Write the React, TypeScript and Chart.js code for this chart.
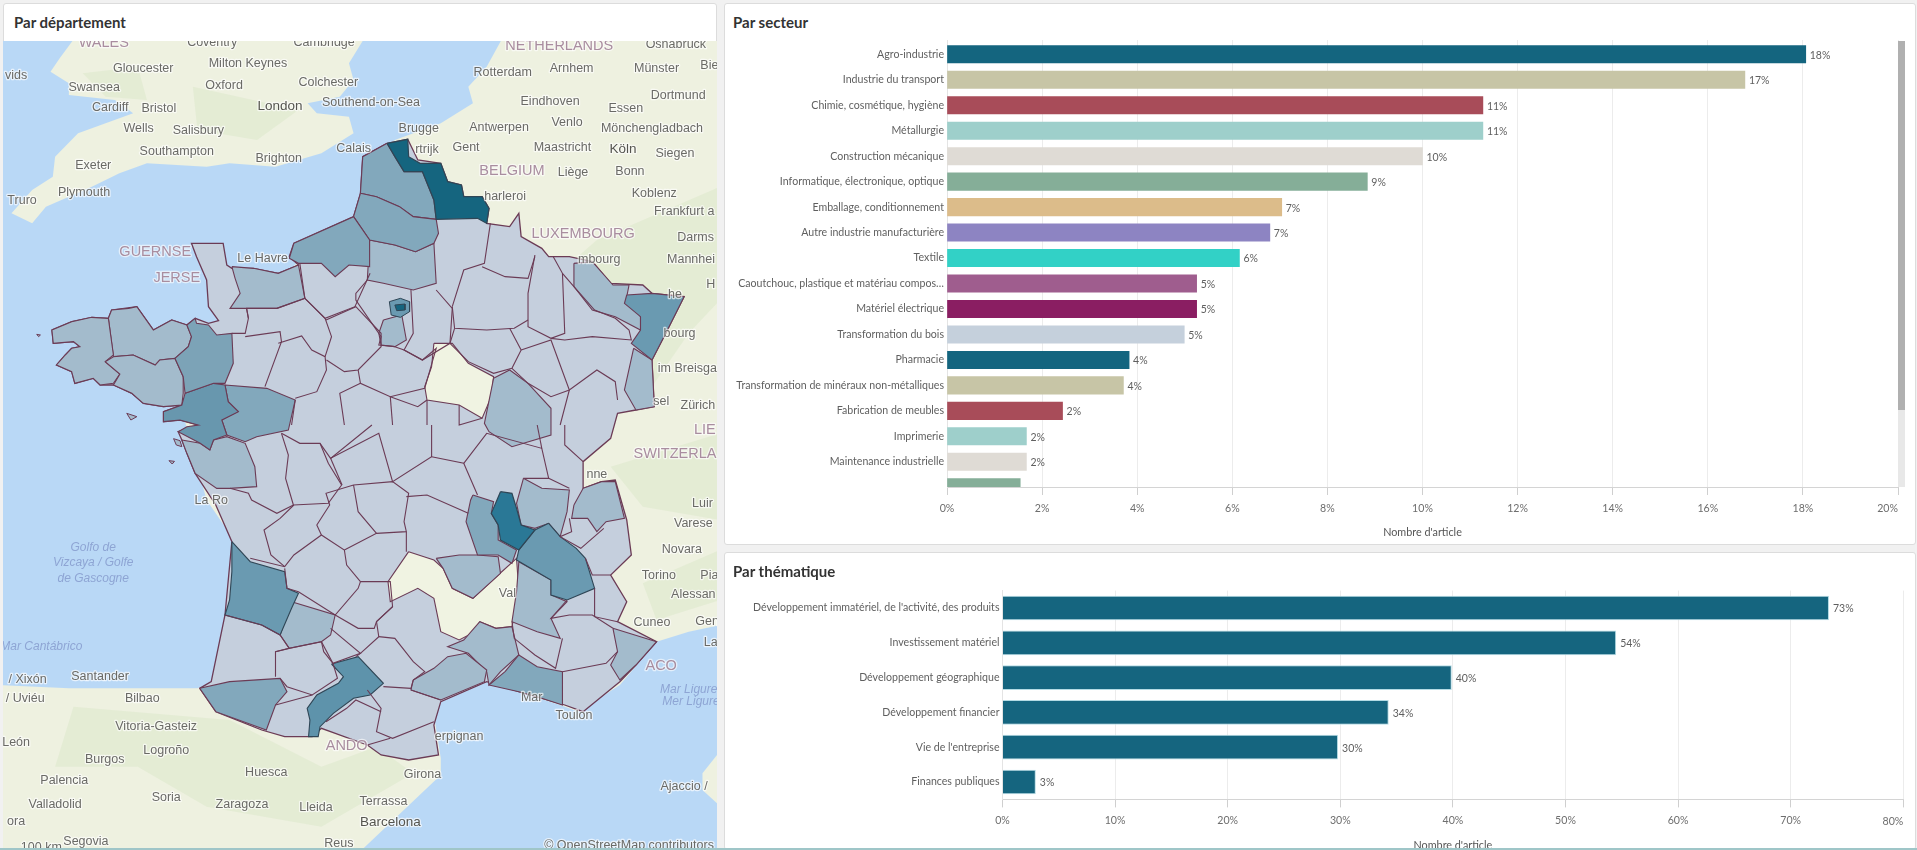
import React, { useEffect, useRef } from "react";
import { Chart, registerables } from "chart.js";

Chart.register(...registerables);

const UI_FONT = "Lato, 'Noto Sans', sans-serif";
const MAP_FONT = "'Liberation Sans', Arial, sans-serif";

// ---------- sector chart ----------
const sectorCategories = [
  "Agro-industrie", "Industrie du transport", "Chimie, cosmétique, hygiène", "Métallurgie",
  "Construction mécanique", "Informatique, électronique, optique", "Emballage, conditionnement",
  "Autre industrie manufacturière", "Textile", "Caoutchouc, plastique et matériau compos…",
  "Matériel électrique", "Transformation du bois", "Pharmacie",
  "Transformation de minéraux non-métalliques", "Fabrication de meubles", "Imprimerie",
  "Maintenance industrielle", "",
];
const sectorValues = [18.06, 16.78, 11.27, 11.27, 10.0, 8.84, 7.04, 6.79, 6.15, 5.25, 5.25, 4.99, 3.83, 3.71, 2.43, 1.67, 1.67, 1.54];
const sectorLabels = ["18%", "17%", "11%", "11%", "10%", "9%", "7%", "7%", "6%", "5%", "5%", "5%", "4%", "4%", "2%", "2%", "2%", ""];
const sectorColors = [
  "#14657f", "#c7c5a6", "#a84c59", "#9ecfcb", "#dfdbd5", "#85ae98", "#dcbc8a", "#8d84c2", "#32d1c6",
  "#9f5d8e", "#8a1e62", "#c5d0dc", "#14657f", "#c7c5a6", "#a84c59", "#9ecfcb", "#dfdbd5", "#85ae98",
];

// ---------- theme chart ----------
const themeCategories = [
  "Développement immatériel, de l'activité, des produits", "Investissement matériel",
  "Développement géographique", "Développement financier", "Vie de l'entreprise", "Finances publiques",
];
const themeValues = [73.4, 54.5, 39.9, 34.3, 29.8, 2.96];
const themeLabels = ["73%", "54%", "40%", "34%", "30%", "3%"];

// ---------- map: shapes in map units ----------
type P = number[];
const south = (pts: P[]): P[] => pts.map(([x, y]) => [x, y + 1275]);

const landUK: P[] = [[170,100],[130,175],[110,215],[150,250],[150,285],[250,300],[290,340],[230,370],[170,400],[120,470],[115,530],[70,570],[25,640],[70,670],[100,620],[150,590],[200,560],[260,520],[320,490],[450,500],[500,490],[600,500],[700,460],[770,400],[760,350],[690,340],[670,310],[740,290],[770,240],[760,190],[800,100]];
const landContinent: P[] = [[1100,100],[1060,200],[1020,260],[1030,310],[960,370],[860,420],[843,435],[820,500],[800,640],[700,720],[600,850],[500,950],[300,1050],[400,1250],[450,1500],[520,1640],[500,1845],[470,2045],[430,2065],[300,2065],[150,2065],[0,2055],[0,2560],[780,2560],[960,2325],[960,2275],[945,2145],[960,2105],[1060,2045],[1130,2075],[1220,2115],[1260,2135],[1350,2055],[1430,1925],[1500,1895],[1570,1875],[1570,100]];
const landCorsica: P[] = [[1570,2250],[1530,2320],[1530,2370],[1570,2420]];
const greenPatches: P[][] = [
  [[1150,900],[1300,720],[1568,560],[1568,900],[1500,1000],[1400,1200],[1300,800]],
  [[1330,1400],[1568,1300],[1568,1560],[1400,1520]],
  [[1400,1750],[1568,1650],[1568,1800],[1430,1860]],
  [[160,2120],[500,2160],[700,2300],[820,2240],[900,2320],[700,2480],[450,2420],[300,2300],[120,2300]],
  [[420,260],[650,330],[560,420],[430,390]],
  [[180,220],[300,200],[320,300],[230,290]],
];
const franceOutline: P[] = [[843,430],[888,418],[910,480],[960,490],[975,545],[1005,555],[1010,590],[1050,590],[1065,625],[1060,670],[1110,680],[1130,640],[1135,710],[1180,745],[1195,770],[1240,770],[1290,785],[1330,850],[1400,855],[1420,880],[1490,890],[1450,1000],[1420,1080],[1425,1220],[1385,1230],[1345,1240],[1330,1315],[1270,1385],[1270,1465],[1310,1445],[1340,1440],[1365,1560],[1375,1665],[1330,1725],[1365,1805],[1345,1865],[1430,1925],[1385,1995],[1350,2045],[1270,2135],[1230,2115],[1130,2075],[1060,2045],[960,2105],[945,2175],[955,2265],[890,2280],[830,2265],[800,2235],[700,2185],[680,2210],[620,2210],[570,2190],[470,2135],[435,2065],[460,2045],[490,1845],[505,1625],[470,1515],[425,1420],[407,1360],[396,1320],[388,1295],[432,1275],[392,1260],[356,1265],[356,1235],[396,1215],[356,1220],[312,1210],[287,1180],[247,1155],[218,1155],[203,1135],[163,1150],[156,1115],[123,1095],[142,1065],[156,1045],[174,1040],[160,1025],[116,1030],[113,990],[156,965],[200,952],[236,955],[243,930],[298,920],[334,990],[374,960],[407,975],[425,955],[454,970],[476,962],[454,920],[450,840],[428,770],[417,730],[486,730],[494,795],[505,805],[552,805],[606,820],[650,795],[630,770],[640,730],[770,650],[785,580],[790,470]];
const islands: P[][] = [
  [[276,1240],[298,1250],[285,1260]],
  [[378,1316],[392,1322],[396,1340],[384,1335]],
  [[368,1382],[380,1384],[375,1392]],
  [[80,1003],[88,1005],[84,1010]],
];

const deptNord: P[] = [[843,430],[888,418],[890,470],[915,490],[945,490],[960,490],[975,545],[1005,555],[1010,590],[1050,590],[1065,625],[1060,670],[1040,655],[950,658],[945,600],[920,515],[880,515],[860,470]];
const deptParisRing: P[] = [[848,905],[872,895],[892,905],[892,935],[872,952],[852,945]];
const deptParis: P[] = [[860,915],[882,912],[882,930],[864,932]];
const deptRhone: P[] = south([[1090,200],[1115,205],[1125,250],[1135,300],[1165,315],[1130,375],[1090,345],[1085,300],[1070,265]]);
const deptHauteGaronne: P[] = [[722,1992],[780,1970],[835,2050],[806,2085],[770,2095],[726,2140],[697,2180],[693,2210],[672,2210],[675,2160],[669,2125],[690,2085],[737,2050],[748,2030]];
const deptGironde: P[] = south([[505,350],[545,410],[620,440],[625,490],[650,505],[635,550],[610,630],[570,600],[490,570],[500,525],[505,440]]);
const deptIsere: P[] = south([[1195,295],[1220,335],[1255,370],[1275,400],[1295,490],[1235,525],[1200,510],[1200,465],[1125,405],[1130,375],[1165,315]]);
const deptBasRhin: P[] = [[1365,885],[1420,880],[1490,890],[1450,1000],[1420,1080],[1375,1030],[1395,990],[1395,950],[1360,910]];
const deptLoireAtl: P[] = [[403,1180],[465,1150],[490,1155],[497,1205],[519,1235],[483,1260],[494,1305],[465,1320],[457,1350],[436,1330],[388,1295],[407,1280],[432,1275],[392,1260],[356,1265],[356,1235],[396,1215]];
const deptIlleVilaine: P[] = [[407,975],[425,955],[428,970],[454,975],[472,1005],[505,1000],[508,1090],[490,1150],[465,1150],[403,1180],[399,1130],[381,1075],[410,1040],[417,1010]];
const mediumDepts: P[][] = [
  [[843,430],[860,470],[880,515],[920,515],[945,600],[950,658],[900,650],[870,620],[820,590],[785,580],[790,470]],
  [[785,580],[820,590],[870,620],[900,650],[950,658],[955,700],[945,730],[905,755],[860,735],[805,720],[770,650]],
  [[770,650],[805,720],[805,800],[760,795],[730,830],[700,790],[650,790],[630,775],[640,730]],
  [[490,1155],[581,1165],[643,1200],[628,1290],[559,1310],[534,1325],[494,1305],[483,1260],[519,1235],[497,1205]],
  south([[1030,210],[1075,230],[1070,265],[1085,300],[1085,345],[1125,375],[1115,415],[1085,390],[1040,390],[1015,290],[1025,225]]),
  south([[435,790],[500,770],[610,760],[625,800],[600,840],[580,915],[470,860]]),
  south([[1100,740],[1130,690],[1170,725],[1225,740],[1225,840],[1180,820],[1130,800],[1065,780]]),
];
const lightDepts: P[][] = [
  [[805,720],[860,735],[905,755],[945,730],[950,850],[900,870],[835,850],[800,840]],
  [[505,800],[552,805],[606,820],[650,795],[664,895],[603,925],[537,925],[501,925],[523,880],[512,835]],
  [[236,955],[243,930],[280,925],[298,920],[334,990],[374,960],[407,975],[417,1010],[410,1040],[381,1075],[348,1080],[338,1095],[290,1065],[247,1070]],
  [[113,990],[116,1030],[160,1025],[174,1040],[156,1045],[142,1065],[123,1095],[156,1115],[163,1150],[203,1135],[218,1155],[247,1150],[261,1122],[229,1085],[247,1065],[236,955],[200,952],[156,965]],
  [[229,1085],[247,1070],[290,1065],[338,1095],[348,1080],[381,1075],[399,1130],[399,1180],[396,1215],[356,1220],[312,1210],[287,1180],[247,1155],[261,1122]],
  [[396,1320],[436,1330],[457,1350],[465,1320],[494,1310],[534,1330],[555,1400],[559,1460],[501,1465],[472,1465],[425,1420],[407,1360]],
  [[835,960],[875,945],[885,1020],[860,1040],[830,1035],[825,1000]],
  [[1250,790],[1290,785],[1335,855],[1370,855],[1365,890],[1395,950],[1395,990],[1340,950],[1290,930],[1250,860]],
  [[1380,1045],[1420,1080],[1425,1220],[1385,1230],[1360,1170]],
  [[1075,1135],[1110,1110],[1150,1150],[1200,1225],[1200,1305],[1115,1340],[1065,1295],[1055,1270]],
  south([[1140,160],[1180,190],[1240,195],[1235,260],[1220,335],[1195,295],[1165,310],[1135,300],[1125,235]]),
  south([[1250,240],[1270,190],[1310,170],[1340,170],[1360,280],[1320,290],[1300,320],[1280,280],[1245,280]]),
  south([[1130,410],[1200,465],[1200,510],[1235,530],[1200,580],[1220,640],[1170,620],[1115,590],[1125,500]]),
  south([[950,400],[1000,390],[1040,390],[1085,395],[1090,445],[1030,520],[985,490],[965,430]]),
  south([[1045,590],[1080,610],[1115,605],[1130,690],[1090,740],[1065,780],[1060,740],[1020,685],[975,665],[1010,645]]),
  south([[900,765],[945,730],[975,695],[1015,685],[1060,735],[1055,770],[960,825],[895,795]]),
  south([[1335,610],[1430,650],[1385,720],[1350,765],[1330,720],[1345,680]]),
  south([[635,530],[730,570],[720,630],[700,650],[630,670],[610,630]]),
];
const emptyDepts: P[][] = [
  [[945,1030],[985,1030],[1020,1090],[1075,1130],[1070,1190],[1050,1255],[1000,1215],[930,1200],[925,1160],[940,1100]],
  south([[890,380],[945,405],[965,430],[985,490],[1030,520],[1085,450],[1125,400],[1130,500],[1115,605],[1080,610],[1045,590],[1035,620],[1000,645],[960,620],[945,520],[910,490],[850,530],[845,470]]),
];
const northBorders: P[][] = [
  [[1068,670],[1055,790],[1010,810],[985,920]],
  [[1050,800],[1100,830],[1150,835],[1165,770]],
  [[1165,765],[1150,880],[1150,980],[1200,1015],[1230,1000],[1225,820],[1205,770]],
  [[1225,820],[1250,860],[1295,930],[1340,955],[1370,990],[1375,1020],[1290,1010],[1230,1020],[1200,1015]],
  [[985,920],[990,985],[1060,990],[1120,985],[1150,960]],
  [[990,985],[980,1030],[1020,1085],[1075,1120],[1115,1105],[1135,1050],[1110,985]],
  [[1135,1050],[1200,1020],[1240,1170],[1220,1275]],
  [[1115,1105],[1150,1150],[1200,1190],[1240,1170],[1300,1110],[1340,1145],[1345,1200]],
  [[895,870],[900,1000],[880,1050],[920,1080],[980,1030],[985,925],[950,870]],
  [[800,840],[775,880],[775,900],[830,1010],[825,1035],[860,1040]],
  [[653,790],[664,895],[708,955],[773,920],[806,820]],
  [[537,925],[541,955],[534,1000],[505,1000]],
  [[541,955],[537,925],[603,925],[664,895],[708,955],[722,1010],[708,1070]],
  [[534,1010],[610,995],[613,1025],[577,1160]],
  [[606,1030],[657,1008],[679,1050],[708,1070],[711,1110],[690,1175],[643,1195]],
  [[710,960],[775,920],[830,1000],[830,1040],[780,1110],[750,1115],[711,1080]],
  [[780,1110],[785,1150],[850,1190],[925,1165],[950,1045],[920,1080],[880,1050],[860,1040]],
  [[850,1190],[910,1220],[930,1200]],
  [[850,1190],[855,1275]],
  [[785,1150],[740,1180],[750,1275]],
  [[643,1200],[635,1275]],
  [[930,1200],[930,1275]],
  [[1000,1215],[1000,1275],[1050,1255]],
];
const southBorders: P[][] = [
  [[613,25],[628,90],[622,160],[639,240]],
  [[640,240],[610,280],[575,315],[590,390],[620,425]],
  [[501,190],[541,205],[548,225],[603,265],[639,240]],
  [[639,240],[715,235],[744,180],[715,115],[697,55],[653,55],[613,25]],
  [[545,400],[620,425],[640,390],[700,330],[750,375],[755,420],[785,470],[780,490],[730,570],[650,500],[625,490],[620,430]],
  [[700,330],[690,300],[718,240],[710,205],[770,180],[855,170],[890,205],[880,290],[885,320],[820,325],[750,375]],
  [[770,180],[780,260],[820,325]],
  [[720,100],[745,180]],
  [[697,55],[720,100],[810,0]],
  [[720,100],[825,25],[855,170],[940,95],[940,0]],
  [[940,95],[1010,115],[1040,210]],
  [[885,215],[930,210],[1020,265]],
  [[885,320],[885,380]],
  [[1010,115],[1060,25],[1180,70],[1195,160],[1140,160]],
  [[1180,70],[1170,0]],
  [[1230,0],[1230,60],[1270,110]],
  [[1195,160],[1240,190]],
  [[1240,280],[1245,320],[1220,335],[1265,370],[1315,310]],
  [[1275,400],[1290,450],[1330,450]],
  [[1235,525],[1200,580],[1240,570],[1290,570],[1335,610]],
  [[1345,590],[1295,575],[1295,490]],
  [[1115,590],[1120,640],[1165,690],[1210,730],[1225,640]],
  [[1225,740],[1320,715],[1345,680]],
  [[730,570],[780,610],[815,610],[820,590],[855,545],[850,470],[785,470]],
  [[855,545],[820,590],[825,635],[785,685],[775,695]],
  [[825,635],[860,640],[900,710],[925,740],[900,765],[895,790],[835,785]],
  [[490,570],[570,600],[610,630],[630,670],[600,680],[600,755]],
  [[600,680],[630,670],[700,650],[725,715],[735,760],[680,810],[625,785],[610,760]],
  [[600,840],[680,810]],
  [[700,650],[705,680],[725,715],[785,685],[720,610]],
  [[800,795],[830,850],[820,920],[855,940],[945,890]],
  [[895,795],[960,825]],
  [[710,890],[755,850],[775,825],[830,860]],
  [[800,960],[850,940]],
];

type L = [string, number, number];
const countryNames: L[] = [
  ["WALES",226,130],["NETHERLANDS",1218,138],["BELGIUM",1115,513],["LUXEMBOURG",1270,702],["GUERNSE",338,756],["JERSE",385,835],
  ["SWITZERLA",1470,1363],["LIE",1535,1290],["ACO",1440,1997],["ANDO",755,2237],
];
const cityNames: L[] = [
  ["Coventry",462,127],["Cambridge",706,127],["Osnabrück",1472,135],["vids",35,226],["Gloucester",312,207],["Milton Keynes",540,190],
  ["Arnhem",1245,205],["Rotterdam",1095,218],["Münster",1430,207],["Bie",1545,197],["Swansea",205,264],["Oxford",488,258],
  ["Colchester",715,248],["Cardiff",240,322],["Bristol",346,327],["Southend-on-Sea",808,308],["Eindhoven",1198,305],["Dortmund",1477,288],
  ["Essen",1363,327],["Wells",302,385],["Salisbury",432,393],["Brugge",912,385],["Antwerpen",1087,382],["Venlo",1235,368],
  ["Mönchengladbach",1420,387],["Southampton",385,456],["Brighton",607,476],["Calais",770,445],["Gent",1015,443],["rtrijk",930,448],
  ["Maastricht",1225,443],["Siegen",1470,462],["Liège",1248,517],["Bonn",1372,516],["Exeter",203,497],["Plymouth",183,579],
  ["Truro",48,603],["harleroi",1100,590],["Koblenz",1425,582],["Frankfurt a",1490,636],["Darms",1515,712],["Le Havre",572,776],
  ["mbourg",1305,778],["Mannhei",1505,778],["H",1548,855],["he",1470,885],["bourg",1480,1000],["im Breisga",1497,1107],["sel",1440,1205],["Zürich",1520,1218],
  ["nne",1300,1425],["Luir",1530,1512],["Varese",1510,1572],["Novara",1485,1650],["La Ro",460,1502],["Torino",1435,1728],["Pia",1545,1728],
  ["Alessan",1510,1783],["Val",1105,1780],["Cuneo",1420,1868],["Gen",1540,1865],["La",1548,1927],["Santander",218,2031],["/ Xixón",60,2040],
  ["Bilbao",310,2096],["/ Uviéu",55,2096],["Vitoria-Gasteiz",340,2179],["León",35,2228],["Logroño",362,2253],["Burgos",228,2278],
  ["Huesca",580,2319],["Girona",920,2323],["Palencia",140,2342],["Ajaccio /",1490,2360],["Soria",362,2392],["Zaragoza",527,2415],
  ["Lleida",688,2422],["Terrassa",835,2406],["Valladolid",120,2414],["ora",35,2464],["Segovia",187,2526],["Reus",738,2532],
  ["Toulon",1250,2147],["Mar",1158,2092],["erpignan",1000,2210],["© OpenStreetMap contributors",1370,2537],["100 km",90,2543],
];
const majorCityNames: L[] = [["London",610,318],["Köln",1357,449],["Barcelona",850,2467]];
const seaNames: L[] = [
  ["Golfo de",203,1642],["Vizcaya / Golfe",203,1688],["de Gascogne",203,1735],["Mar Cantábrico",90,1939],["Mar Ligure",1500,2068],["Mer Ligure",1505,2105],
];

const pct = (v: any) => `${v}%`;

function valueLabelPlugin(labels: string[]) {
  return {
    id: "valueLabels",
    afterDatasetsDraw(chart: any) {
      const { ctx } = chart;
      ctx.save();
      ctx.font = `10.5px ${UI_FONT}`;
      ctx.fillStyle = "#5f5f5f";
      ctx.textBaseline = "middle";
      chart.getDatasetMeta(0).data.forEach((bar: any, i: number) => {
        if (labels[i]) ctx.fillText(labels[i], bar.x + 4, bar.y + 1);
      });
      ctx.restore();
    },
  };
}

function endTickPlugin(endValue: number) {
  return {
    id: "endTick",
    afterDraw(chart: any) {
      const { ctx, scales } = chart;
      const x = scales.x.getPixelForValue(endValue);
      ctx.save();
      ctx.font = `10.6px ${UI_FONT}`;
      ctx.fillStyle = "#6e6e6e";
      ctx.textAlign = "right";
      ctx.textBaseline = "middle";
      ctx.fillText(pct(endValue), x, scales.x.top + 22);
      ctx.restore();
    },
  };
}

function xAxis(max: number, step: number, height: number, titleBottom: number) {
  return {
    type: "linear",
    position: "bottom",
    min: 0,
    max,
    afterFit(s: any) { s.height = height; },
    ticks: {
      stepSize: step,
      maxRotation: 0,
      autoSkip: false,
      padding: 7,
      color: "#6e6e6e",
      font: { family: UI_FONT, size: 10.6 },
      callback: (v: any) => (v === max ? "" : pct(v)),
    },
    grid: { color: "#ececec", tickColor: "#cfcfcf", tickLength: 8, lineWidth: 1 },
    border: { color: "#d4d4d4" },
    title: {
      display: true,
      text: "Nombre d'article",
      color: "#555",
      font: { family: UI_FONT, size: 10.8 },
      padding: { top: 0, bottom: titleBottom },
    },
  };
}

function makeSector(canvas: HTMLCanvasElement) {
  return new Chart(canvas, {
    type: "bar",
    data: {
      datasets: [{
        data: sectorValues.map((x, y) => ({ x, y })),
        backgroundColor: sectorColors,
        barThickness: 17.4,
      }],
    },
    options: {
      indexAxis: "y",
      responsive: false,
      animation: false,
      events: [],
      layout: { padding: { top: 37, right: 18, left: 0, bottom: 0 } },
      plugins: { legend: { display: false }, tooltip: { enabled: false } },
      scales: {
        x: xAxis(20, 2, 58, 6),
        y: {
          type: "linear",
          reverse: true,
          offset: false,
          min: -0.562,
          max: 16.99,
          afterFit(s: any) { s.width = 223; },
          ticks: {
            stepSize: 1,
            autoSkip: false,
            padding: 3,
            color: "#5f5f5f",
            font: { family: UI_FONT, size: 10.6 },
            callback: (v: any) => (Number.isInteger(v) ? sectorCategories[v] : ""),
          },
          grid: { display: false, drawTicks: false, offset: false },
          border: { color: "#e4e4e4" },
        },
      },
    } as any,
    plugins: [valueLabelPlugin(sectorLabels), endTickPlugin(20)],
  });
}

function makeTheme(canvas: HTMLCanvasElement) {
  return new Chart(canvas, {
    type: "bar",
    data: {
      labels: themeCategories,
      datasets: [{
        data: themeValues,
        backgroundColor: "#15657f",
        borderColor: "#b4dbe4",
        borderWidth: 1,
        categoryPercentage: 1,
        barPercentage: 0.71,
      }],
    },
    options: {
      indexAxis: "y",
      responsive: false,
      animation: false,
      events: [],
      layout: { padding: { top: 38.6, right: 12.7, left: 0, bottom: 0 } },
      plugins: { legend: { display: false }, tooltip: { enabled: false } },
      scales: {
        x: xAxis(80, 10, 52.6, 0),
        y: {
          type: "category",
          afterFit(s: any) { s.width = 278.5; },
          ticks: { padding: 3, color: "#5f5f5f", font: { family: UI_FONT, size: 10.6 }, autoSkip: false },
          grid: { display: false, drawTicks: false },
          border: { color: "#e4e4e4" },
        },
      },
    } as any,
    plugins: [valueLabelPlugin(themeLabels), endTickPlugin(80)],
  });
}

function shape(pts: P[], fillColor: string, line = "rgba(0,0,0,0)", width = 0) {
  const closed = [...pts, pts[0]];
  return {
    data: closed.map(([x, y]) => ({ x, y })),
    showLine: true,
    fill: "shape",
    backgroundColor: fillColor,
    borderColor: line,
    borderWidth: width,
    pointRadius: 0,
    tension: 0,
  };
}
function polyline(pts: P[], line: string, width: number) {
  return {
    data: pts.map(([x, y]) => ({ x, y })),
    showLine: true,
    fill: false,
    borderColor: line,
    borderWidth: width,
    pointRadius: 0,
    tension: 0,
  };
}

const mapLabelsPlugin = {
  id: "mapLabels",
  afterDatasetsDraw(chart: any) {
    const { ctx, scales } = chart;
    const put = (items: L[], font: string, color: string, halo: string) => {
      ctx.font = font;
      ctx.fillStyle = color;
      ctx.strokeStyle = halo;
      ctx.lineWidth = 2.5;
      ctx.textAlign = "center";
      ctx.textBaseline = "middle";
      ctx.lineJoin = "round";
      items.forEach(([t, x, y]) => {
        const px = scales.x.getPixelForValue(x);
        const py = scales.y.getPixelForValue(y);
        if (halo !== "none") ctx.strokeText(t, px, py);
        ctx.fillText(t, px, py);
      });
    };
    ctx.save();
    put(cityNames, `12.5px ${MAP_FONT}`, "#6a6a66", "rgba(255,255,255,0.65)");
    put(majorCityNames, `13.5px ${MAP_FONT}`, "#55554f", "rgba(255,255,255,0.65)");
    put(countryNames, `14.5px ${MAP_FONT}`, "#a98d9f", "rgba(255,255,255,0.6)");
    put(seaNames, `italic 12px ${MAP_FONT}`, "#8ea5d4", "none");
    ctx.restore();
  },
};

function makeMap(canvas: HTMLCanvasElement) {
  const outline = "#6b3b55";
  const dark = "#2f4656";
  // listed bottom layer first; Chart.js paints the first dataset last, so the list is reversed below
  const layers: any[] = [
    ...[landUK, landContinent, landCorsica].map((p) => shape(p, "#eef1e0")),
    ...greenPatches.map((p) => shape(p, "rgba(205,224,185,0.3)")),
    shape(franceOutline, "#c5cfdd", outline, 1.3),
    ...islands.map((p) => shape(p, "#a3bbcc", outline, 1)),
    ...emptyDepts.map((p) => shape(p, "#f0f3e2", outline, 1.1)),
    ...lightDepts.map((p) => shape(p, "#a3bbcc", outline, 1.1)),
    ...mediumDepts.map((p) => shape(p, "#82a8bc", outline, 1.1)),
    shape(deptLoireAtl, "#6897ae", outline, 1.1),
    shape(deptIlleVilaine, "#7ca3b7", outline, 1.1),
    shape(deptBasRhin, "#6a9ab1", outline, 1.1),
    shape(deptIsere, "#6a9ab1", dark, 1.1),
    shape(deptGironde, "#6a9ab1", dark, 1.1),
    shape(deptHauteGaronne, "#5e93ab", dark, 1.1),
    ...northBorders.map((p) => polyline(p, outline, 1.1)),
    ...southBorders.map((p) => polyline(south(p), outline, 1.1)),
    shape(deptRhone, "#2a7896", dark, 1.2),
    shape(deptNord, "#15657f", dark, 1.2),
    shape(deptParisRing, "#6a9ab1", dark, 1),
    shape(deptParis, "#15657f", dark, 1),
  ];
  return new Chart(canvas, {
    type: "scatter",
    data: { datasets: layers.reverse() },
    options: {
      responsive: false,
      animation: false,
      events: [],
      layout: { padding: 0 },
      plugins: { legend: { display: false }, tooltip: { enabled: false } },
      scales: {
        x: { type: "linear", display: false, min: 6.5, max: 1561.6 },
        y: { type: "linear", display: false, reverse: true, min: 123, max: 2544 },
      },
    } as any,
    plugins: [mapLabelsPlugin],
  });
}

const panel = (left: number, top: number, width: number, height: number): React.CSSProperties => ({
  position: "absolute", left, top, width, height, background: "#fff", border: "1px solid #dcdcdc",
  borderRadius: 3, boxSizing: "border-box", overflow: "hidden",
});
const titleStyle = (left: number, top: number): React.CSSProperties => ({
  position: "absolute", left, top, fontFamily: UI_FONT, fontSize: 15, fontWeight: 700, color: "#333", whiteSpace: "nowrap", lineHeight: "20px",
});

export default function App() {
  const mapRef = useRef<HTMLCanvasElement>(null);
  const sectorRef = useRef<HTMLCanvasElement>(null);
  const themeRef = useRef<HTMLCanvasElement>(null);
  useEffect(() => {
    document.body.style.margin = "0";
    const charts = [makeMap(mapRef.current!), makeSector(sectorRef.current!), makeTheme(themeRef.current!)];
    return () => charts.forEach((c) => c.destroy());
  }, []);
  return (
    <div style={{ position: "absolute", left: 0, top: 0, width: 1917, height: 850, background: "#f1f1f1", overflow: "hidden" }}>
      <div style={panel(3, 3, 714, 847)} />
      <div style={titleStyle(14, 12)}>Par département</div>
      <canvas ref={mapRef} width={714} height={807} style={{ position: "absolute", left: 3, top: 41, display: "block", background: "#b9d8f6" }} />

      <div style={panel(724, 3, 1192, 542)} />
      <div style={titleStyle(733, 12)}>Par secteur</div>
      <canvas ref={sectorRef} width={1192} height={542} style={{ position: "absolute", left: 724, top: 3, display: "block" }} />
      <div style={{ position: "absolute", left: 1898, top: 41, width: 7, height: 446, background: "#e8e8e8" }} />
      <div style={{ position: "absolute", left: 1898, top: 41, width: 7, height: 369, background: "#b0b0b0" }} />

      <div style={panel(724, 552, 1192, 298)} />
      <div style={{ position: "absolute", left: 724, top: 552, width: 1192, height: 296, overflow: "hidden" }}>
        <canvas ref={themeRef} width={1192} height={300} style={{ position: "absolute", left: 0, top: 0, display: "block" }} />
      </div>
      <div style={titleStyle(733, 561)}>Par thématique</div>
      <div style={{ position: "absolute", left: 0, top: 848, width: 1917, height: 2, background: "#9fc6c8" }} />
    </div>
  );
}
